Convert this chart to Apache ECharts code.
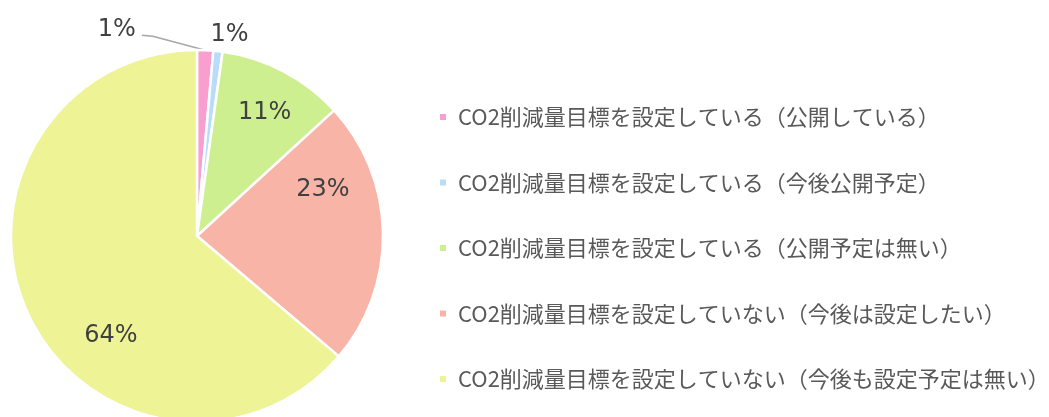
<!DOCTYPE html>
<html>
<head>
<meta charset="utf-8">
<script src="https://cdn.jsdelivr.net/npm/echarts@6.0.0/dist/echarts.min.js"></script>
<style>
  html, body { margin: 0; padding: 0; background: #fff; }
  #root { width: 1049px; height: 417px; }
</style>
</head>
<body>
<div id="root"></div>
<script>
const categories = [
  'CO2削減量目標を設定している（公開している）',
  'CO2削減量目標を設定している（今後公開予定）',
  'CO2削減量目標を設定している（公開予定は無い）',
  'CO2削減量目標を設定していない（今後は設定したい）',
  'CO2削減量目標を設定していない（今後も設定予定は無い）'
]
const values = [1.4, 0.8, 11.0, 23.0, 63.8]
const colors = ['#f99fcf', '#b9ddf9', '#cdef90', '#f8b4a7', '#eef395']

// small slices get outside labels, the rest go inside
const outsideIdx = [0, 1]
// nudges so labels sit where the original (Excel) put them
const labelShift = [[-125, -6], [-98, -27], [3, 0], [-13, -44], [40, 41]]

const pctLabel = p => Math.round(p.percent) + '%'

const chart = echarts.init(document.getElementById('root'))

const center = [197, 236]
const labelFont = {
  fontFamily: '"DejaVu Sans", sans-serif',
  fontSize: 24,
  color: '#404040'
}

const option = {
  animation: false,
  color: colors,
  legend: {
    orient: 'vertical',
    left: 433,
    top: 101,
    itemWidth: 8,
    itemHeight: 8,
    itemGap: 43.5,
    icon: 'rect',
    textStyle: {
      fontFamily: '"Noto Sans CJK JP", sans-serif',
      fontSize: 22,
      color: '#595959',
      padding: [0, 0, 0, 6]
    },
    data: categories
  },
  series: [
    {
      type: 'pie',
      center,
      radius: [0, 186],
      startAngle: 90,
      clockwise: true,
      itemStyle: { borderColor: '#fff', borderWidth: 2.5 },
      emphasis: { disabled: true },
      data: categories.map((name, i) => ({
        name,
        value: values[i],
        label: {
          show: outsideIdx.includes(i),
          position: 'outside',
          formatter: pctLabel,
          ...labelFont
        },
        labelLine: {
          show: i === 0,
          length: 14,
          length2: 12,
          smooth: false,
          lineStyle: { color: '#a6a6a6', width: 1.5 }
        }
      })),
      labelLayout: p => {
        const [dx, dy] = labelShift[p.dataIndex]
        const out = { dx, dy }
        if (p.labelLinePoints) {
          const r = p.labelRect
          const right = r.x + dx + r.width
          const cy = r.y + dy + r.height / 2
          out.labelLinePoints = [
            p.labelLinePoints[0],
            [right + 17, cy + 6],
            [right + 6, cy + 5]
          ]
        }
        return out
      }
    },
    {
      type: 'pie',
      center,
      radius: [108, 164],
      startAngle: 90,
      clockwise: true,
      silent: true,
      legendHoverLink: false,
      itemStyle: { color: 'rgba(0,0,0,0)' },
      label: {
        show: true,
        position: 'inside',
        formatter: pctLabel,
        ...labelFont
      },
      labelLine: { show: false },
      data: categories.map((name, i) => ({
        name: name + ' ',
        value: values[i],
        label: { show: !outsideIdx.includes(i) }
      })),
      labelLayout: p => {
        const [dx, dy] = labelShift[p.dataIndex]
        return { dx, dy }
      }
    }
  ]
}

chart.setOption(option)
</script>
</body>
</html>
